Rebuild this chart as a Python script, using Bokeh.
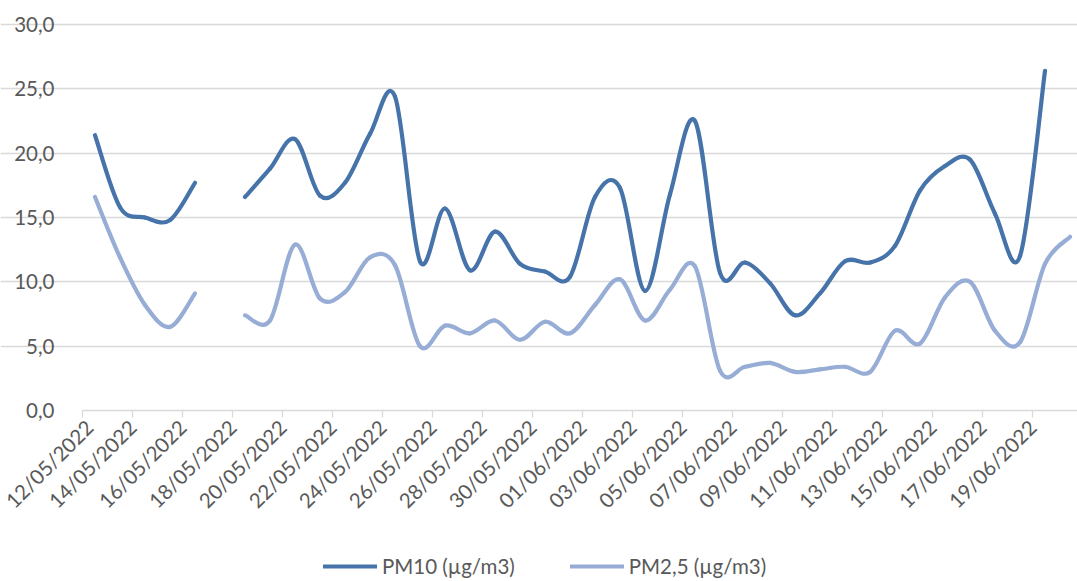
import datetime as dt
from bokeh.plotting import figure
from bokeh.models import (ColumnDataSource, FixedTicker, CustomJSTickFormatter,
                          Legend, LegendItem, Range1d, LinearAxis)
from bokeh.embed import file_html
from bokeh.resources import INLINE
import math

# ---- data ----
start = dt.date(2022, 5, 12)
dates = [(start + dt.timedelta(days=i)).strftime("%d/%m/%Y") for i in range(40)]

pm10 = [21.4, 15.8, 15.0, 14.8, 17.7, None, 16.6, 18.8, 21.1, 16.7,
        17.7, 21.5, 24.4, 11.6, 15.7, 10.9, 13.9, 11.4, 10.8, 10.4,
        16.6, 17.3, 9.3, 16.8, 22.5, 10.7, 11.5, 9.9, 7.4, 9.1,
        11.6, 11.5, 12.8, 17.1, 19.0, 19.5, 15.3, 12.0, 26.4, None]

pm25 = [16.6, 11.9, 8.2, 6.5, 9.1, None, 7.4, 7.0, 12.9, 8.7,
        9.2, 11.9, 11.3, 5.0, 6.6, 6.0, 7.0, 5.5, 6.9, 6.0,
        8.2, 10.2, 7.0, 9.4, 11.2, 3.1, 3.4, 3.7, 3.0, 3.2,
        3.4, 3.0, 6.2, 5.2, 8.8, 10.0, 6.2, 5.3, 11.4, 13.5]

y_ticks = [0, 5, 10, 15, 20, 25, 30]
series_names = ["PM10 (µg/m3)", "PM2,5 (µg/m3)"]
colors = ["#4674AA", "#97ADD5"]

FONT = "Lato"
TXT = "#595959"
GRID = "#D9D9D9"


def smooth_segments(vals):
    """Excel-like smoothed line: cubic Bezier control points per segment."""
    x0, y0, x1, y1, cx0, cy0, cx1, cy1 = ([] for _ in range(8))
    runs, cur = [], []
    for i, v in enumerate(vals):
        if v is None:
            if cur:
                runs.append(cur)
            cur = []
        else:
            cur.append((i, v))
    if cur:
        runs.append(cur)
    for run in runs:
        n = len(run)
        for k in range(n - 1):
            p0 = run[k - 1] if k > 0 else run[k]
            p1 = run[k]
            p2 = run[k + 1]
            p3 = run[k + 2] if k + 2 < n else run[k + 1]
            x0.append(p1[0]); y0.append(p1[1])
            x1.append(p2[0]); y1.append(p2[1])
            cx0.append(p1[0] + (p2[0] - p0[0]) / 6.0)
            cy0.append(p1[1] + (p2[1] - p0[1]) / 6.0)
            cx1.append(p2[0] - (p3[0] - p1[0]) / 6.0)
            cy1.append(p2[1] - (p3[1] - p1[1]) / 6.0)
    return dict(x0=x0, y0=y0, x1=x1, y1=y1, cx0=cx0, cy0=cy0, cx1=cx1, cy1=cy1)


# frame covers the whole page; axes are drawn at fixed data locations
X0 = -0.5            # start of the first day band
XEND = 39.5          # end of the last day band
p = figure(width=1077, height=581, output_backend="svg", toolbar_location=None,
           x_range=Range1d(-3.78, 39.3), y_range=Range1d(-13.29, 31.87),
           x_axis_location=None, y_axis_location=None,
           min_border_left=0, min_border_right=0, min_border_top=0,
           min_border_bottom=0)
p.outline_line_color = None
p.background_fill_color = "white"
p.border_fill_color = "white"

# date axis, drawn at y = 0
xaxis = LinearAxis(fixed_location=0, bounds=(X0, XEND))
xaxis.ticker = FixedTicker(ticks=[i - 0.5 for i in range(0, 40, 2)])
xaxis.formatter = CustomJSTickFormatter(args=dict(labels=dates), code="""
    const i = Math.round(tick + 0.5);
    return (i >= 0 && i < labels.length) ? labels[i] : "";
""")
xaxis.major_label_orientation = math.pi / 4
xaxis.axis_line_color = GRID
xaxis.axis_line_width = 1.3
xaxis.major_tick_line_color = GRID
xaxis.major_tick_line_width = 1.3
xaxis.major_tick_out = 7
xaxis.major_tick_in = 0
xaxis.minor_tick_line_color = None
xaxis.major_label_text_font = FONT
xaxis.major_label_text_font_size = "20.5px"
xaxis.major_label_text_color = TXT
xaxis.major_label_standoff = 6
p.add_layout(xaxis, "below")

# value axis, drawn at the start of the first day band
yaxis = LinearAxis(fixed_location=X0, bounds=(0, 30))
yaxis.ticker = FixedTicker(ticks=y_ticks)
yaxis.formatter = CustomJSTickFormatter(code="return tick.toFixed(1).replace('.', ',');")
yaxis.axis_line_color = None
yaxis.major_tick_line_color = None
yaxis.minor_tick_line_color = None
yaxis.major_label_text_font = FONT
yaxis.major_label_text_font_size = "20.5px"
yaxis.major_label_text_color = TXT
yaxis.major_label_standoff = 22
p.add_layout(yaxis, "left")

p.xgrid.grid_line_color = None
p.ygrid.grid_line_color = GRID
p.ygrid.grid_line_width = 1.3
p.ygrid.ticker = FixedTicker(ticks=y_ticks[1:])
p.ygrid.bounds = (X0, XEND)

renderers = []
for vals, col in zip([pm10, pm25], colors):
    src = ColumnDataSource(smooth_segments(vals))
    r = p.bezier(x0="x0", y0="y0", x1="x1", y1="y1", cx0="cx0", cy0="cy0",
                 cx1="cx1", cy1="cy1", source=src, line_color=col,
                 line_width=4.2, line_cap="round", line_join="round")
    renderers.append(r)

legend = Legend(items=[LegendItem(label=n, renderers=[r])
                       for n, r in zip(series_names, renderers)],
                orientation="horizontal", location=(323, 3),
                label_text_font=FONT, label_text_font_size="20.5px",
                label_text_color=TXT, glyph_width=54, glyph_height=22,
                label_standoff=5, spacing=55, padding=0, margin=0,
                border_line_color=None, background_fill_alpha=0)
p.add_layout(legend, "center")

open("out.html", "w").write(file_html(p, INLINE))
